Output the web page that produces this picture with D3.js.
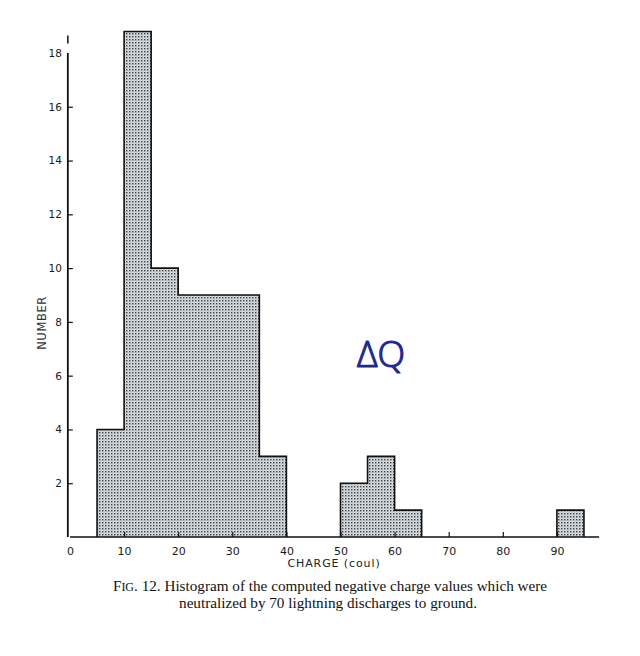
<!DOCTYPE html>
<html>
<head>
<meta charset="utf-8">
<script src="https://cdn.jsdelivr.net/npm/d3@7/dist/d3.min.js"></script>
<style>
  body { margin: 0; background: #fff; }
  svg { display: block; }
</style>
</head>
<body>
<div id="chart"></div>
<script>
// bins of charge (coul) and counts
const binStarts = [5, 10, 15, 20, 25, 30, 35, 40, 45, 50, 55, 60, 65, 70, 75, 80, 85, 90];
const binCounts = [4, 18.8, 10, 9, 9, 9, 3, 0, 0, 2, 3, 1, 0, 0, 0, 0, 0, 1];
const binWidth = 5;
const xTicks = [0, 10, 20, 30, 40, 50, 60, 70, 80, 90];
const yTicks = [2, 4, 6, 8, 10, 12, 14, 16, 18];
const captionLines = [
    "neutralized by 70 lightning discharges to ground."
];

const width = 640, height = 656;

const svg = d3.select('#chart').append('svg')
    .attr('width', width)
    .attr('height', height);

// stipple pattern
const defs = svg.append('defs');
const pat = defs.append('pattern')
    .attr('id', 'dots')
    .attr('patternUnits', 'userSpaceOnUse')
    .attr('width', 3)
    .attr('height', 3);
pat.append('rect').attr('width', 3).attr('height', 3).attr('fill', '#dce2e5');
pat.append('rect').attr('x', 0).attr('y', 0).attr('width', 1.4).attr('height', 1.4).attr('fill', '#353a40');
pat.append('rect').attr('x', 1.5).attr('y', 1.5).attr('width', 1).attr('height', 1).attr('fill', '#8a9096');

// Scales
const x = d3.scaleLinear().domain([0, 100]).range([70, 611]);
const y = d3.scaleLinear().domain([0, 18]).range([537, 53]);

// group contiguous non-empty bins so the outline is a single step path
const groups = [];
let cur = null;
binStarts.forEach((s, i) => {
    const c = binCounts[i];
    if (c > 0) {
        if (!cur) { cur = []; groups.push(cur); }
        cur.push({ x0: s, x1: s + binWidth, n: c });
    } else {
        cur = null;
    }
});

groups.forEach(g => {
    const pts = [[g[0].x0, 0]];
    g.forEach(b => { pts.push([b.x0, b.n]); pts.push([b.x1, b.n]); });
    pts.push([g[g.length - 1].x1, 0]);
    const line = d3.line().x(d => x(d[0])).y(d => y(d[1]));
    svg.append('path')
        .attr('d', line(pts))
        .attr('fill', 'url(#dots)')
        .attr('stroke', '#111')
        .attr('stroke-width', 1.6)
        .attr('stroke-linejoin', 'miter');
});

// X Axis
const xAxis = svg.append('g')
    .attr('class', 'x-axis')
    .attr('transform', `translate(0,${y(0)})`)
    .call(d3.axisBottom(x).tickValues(xTicks).tickSize(0).tickPadding(10).tickFormat(d3.format('d')));
xAxis.select('.domain').remove();
xAxis.append('line')
    .attr('x1', x(0)).attr('x2', x(97.8))
    .attr('stroke', '#111').attr('stroke-width', 1.6);
xAxis.selectAll('.tick').filter(d => d > 0).append('line')
    .attr('y1', 0).attr('y2', -5)
    .attr('stroke', '#111').attr('stroke-width', 1.2);
xAxis.selectAll('text')
    .attr('font-family', 'DejaVu Sans, sans-serif')
    .attr('font-size', 11)
    .attr('fill', '#1a1a1a');

// Y Axis
const yAxis = svg.append('g')
    .attr('class', 'y-axis')
    .attr('transform', `translate(${x(-0.4)},0)`)
    .call(d3.axisLeft(y).tickValues(yTicks).tickSize(0).tickPadding(6));
yAxis.select('.domain').remove();
yAxis.append('line')
    .attr('y1', y(0)).attr('y2', y(18))
    .attr('stroke', '#111').attr('stroke-width', 1.8);
yAxis.append('line')
    .attr('y1', y(18.35)).attr('y2', y(18.65))
    .attr('stroke', '#111').attr('stroke-width', 1.5);
yAxis.selectAll('.tick').filter(d => d < 18).append('line')
    .attr('x1', 0).attr('x2', 5)
    .attr('stroke', '#111').attr('stroke-width', 1.2);
yAxis.selectAll('text')
    .attr('font-family', 'DejaVu Sans, sans-serif')
    .attr('font-size', 10.5)
    .attr('fill', '#1a1a1a');

// Axis labels
svg.append('text')
    .attr('x', 334)
    .attr('y', 567)
    .attr('text-anchor', 'middle')
    .attr('font-family', 'DejaVu Sans, sans-serif')
    .attr('font-size', 11)
    .attr('letter-spacing', 0.9)
    .attr('fill', '#222')
    .text('CHARGE  (coul)');

svg.append('text')
    .attr('transform', `translate(46,${323}) rotate(-90)`)
    .attr('text-anchor', 'middle')
    .attr('font-family', 'DejaVu Sans, sans-serif')
    .attr('font-size', 11.5)
    .attr('letter-spacing', 0.6)
    .attr('fill', '#333')
    .text('NUMBER');

// handwritten annotation
svg.append('text')
    .attr('x', 381)
    .attr('y', 367)
    .attr('text-anchor', 'middle')
    .attr('font-family', 'Open Sans, sans-serif')
    .attr('font-weight', 300)
    .attr('font-size', 36)
    .attr('fill', '#1f2a8f')
    .attr('stroke', '#1f2a8f')
    .attr('stroke-width', 1.2)
    .attr('stroke-linejoin', 'round')
    .text('ΔQ');

// Caption
const cap = svg.append('text')
    .attr('x', 330)
    .attr('y', 591)
    .attr('text-anchor', 'middle')
    .attr('font-family', 'Liberation Serif, serif')
    .attr('font-size', 15.2)
    .attr('fill', '#111');
cap.append('tspan').text('F');
cap.append('tspan').attr('font-size', 12).text('IG');
cap.append('tspan').text('. 12. Histogram of the computed negative charge values which were');

svg.append('text')
    .attr('x', 328)
    .attr('y', 608)
    .attr('text-anchor', 'middle')
    .attr('font-family', 'Liberation Serif, serif')
    .attr('font-size', 15.2)
    .attr('fill', '#111')
    .text(captionLines[0]);
</script>
</body>
</html>
